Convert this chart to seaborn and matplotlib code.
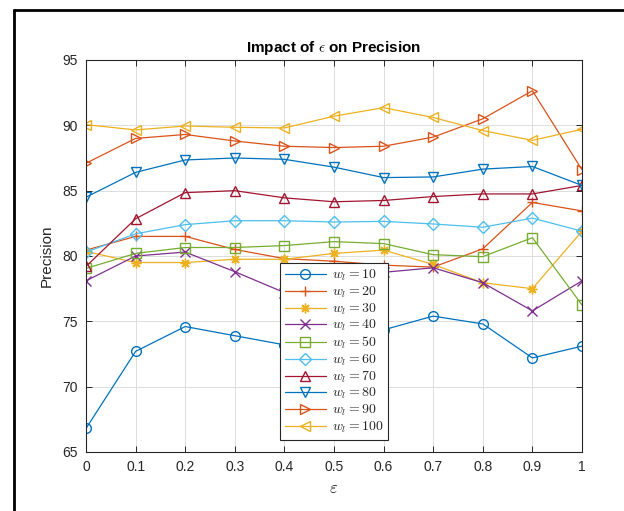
import matplotlib
matplotlib.use("Agg")
import matplotlib.pyplot as plt
from matplotlib.lines import Line2D
import seaborn as sns

sns.set_style("ticks")
plt.rcParams["font.family"] = ["Liberation Sans", "DejaVu Sans"]
plt.rcParams["mathtext.fontset"] = "cm"

# epsilon values on the x axis
eps = [0, 0.1, 0.2, 0.3, 0.4, 0.5, 0.6, 0.7, 0.8, 0.9, 1.0]

# precision per w_l
w10 = [66.8, 72.7, 74.6, 73.9, 73.2, 73.6, 74.35, 75.4, 74.8, 72.2, 73.1]
w20 = [80.45, 81.5, 81.5, 80.5, 79.8, 79.6, 79.3, 79.15, 80.55, 84.1, 83.45]
w30 = [80.35, 79.5, 79.5, 79.75, 79.75, 80.2, 80.45, 79.35, 77.95, 77.5, 81.9]
w40 = [78.1, 80.0, 80.3, 78.8, 77.2, 77.8, 78.75, 79.1, 77.95, 75.8, 78.1]
w50 = [79.05, 80.2, 80.65, 80.65, 80.8, 81.1, 80.95, 80.1, 79.95, 81.4, 76.25]
w60 = [80.3, 81.7, 82.4, 82.7, 82.7, 82.6, 82.65, 82.45, 82.2, 82.9, 81.9]
w70 = [79.2, 82.85, 84.85, 85.0, 84.45, 84.15, 84.25, 84.55, 84.75, 84.75, 85.4]
w80 = [84.5, 86.4, 87.35, 87.5, 87.4, 86.8, 86.0, 86.05, 86.65, 86.85, 85.4]
w90 = [87.1, 89.0, 89.3, 88.8, 88.4, 88.3, 88.4, 89.1, 90.5, 92.65, 86.6]
w100 = [90.05, 89.65, 89.95, 89.85, 89.8, 90.7, 91.35, 90.6, 89.6, 88.85, 89.7]

series = [w10, w20, w30, w40, w50, w60, w70, w80, w90, w100]
labels = [r"$w_l = %d$" % w for w in [10, 20, 30, 40, 50, 60, 70, 80, 90, 100]]
markers = ["o", "+", (8, 2, 0), "x", "s", "D", "^", "v", ">", "<"]
colors = ["#0072BD", "#D95319", "#EDB120", "#7E2F8E", "#77AC30",
          "#4DBEEE", "#A2142F", "#0072BD", "#D95319", "#EDB120"]

fig = plt.figure(figsize=(6.24, 5.11), dpi=100)
ax = fig.add_axes([86 / 624, 59 / 511, 496 / 624, 392 / 511])

for vals, lab, m, c in zip(series, labels, markers, colors):
    ms = 6 if m == "D" else 7
    sns.lineplot(x=eps, y=vals, ax=ax, color=c, marker=m, markersize=ms,
                 mec=c, mfc="none", mew=1.0, lw=0.9, label=lab)

ax.set_xlim(0, 1)
ax.set_ylim(65, 95)
ax.set_xticks(eps)
ax.set_xticklabels(["0", "0.1", "0.2", "0.3", "0.4", "0.5", "0.6", "0.7", "0.8", "0.9", "1"])
ax.set_yticks([65, 70, 75, 80, 85, 90, 95])
ax.grid(True, color="#dddddd", lw=0.7)
ax.tick_params(direction="in", length=4, width=0.7, colors="#262626",
               labelsize=10, top=True, right=True, pad=6)
for s in ax.spines.values():
    s.set_color("#262626")
    s.set_linewidth(0.8)

ax.set_title(r"Impact of $\epsilon$ on Precision", fontsize=11, fontweight="bold",
             color="black", pad=6)
ax.set_xlabel(r"$\varepsilon$", fontsize=12, color="#262626", labelpad=5)
ax.set_ylabel("Precision", fontsize=11, color="#262626", labelpad=6)

leg = ax.legend(loc="lower center", bbox_to_anchor=(0.5, 0.031), borderaxespad=0,
                fontsize=10, frameon=True, fancybox=False, framealpha=1,
                edgecolor="#262626", handlelength=3.0, borderpad=0.35,
                labelspacing=0.1, handletextpad=0.4)
leg.get_frame().set_linewidth(0.8)

# outer frame of the original figure panel
fig.add_artist(Line2D([14 / 624, 14 / 624], [0, 1 - 10 / 511], transform=fig.transFigure,
                      color="black", lw=2))
fig.add_artist(Line2D([14 / 624, 1], [1 - 10 / 511, 1 - 10 / 511], transform=fig.transFigure,
                      color="black", lw=2))

fig.savefig("out.png", dpi=100)
